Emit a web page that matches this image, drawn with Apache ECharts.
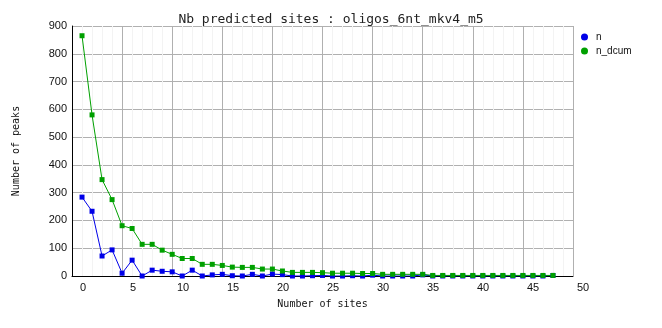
<!DOCTYPE html>
<html>
<head>
<meta charset="utf-8">
<script src="https://cdn.jsdelivr.net/npm/echarts@6/dist/echarts.min.js"></script>
<style>html,body{margin:0;padding:0;background:#fff}#c{width:662px;height:328px}</style>
</head>
<body>
<div id="c"></div>
<script>
const sites = [0,1,2,3,4,5,6,7,8,9,10,11,12,13,14,15,16,17,18,19,20,21,22,23,24,25,26,27,28,29,30,31,32,33,34,35,36,37,38,39,40,41,42,43,44,45,46,47];
const n = [284,233,72,94,10,57,0,21,17,15,0,21,0,4,6,1,0,6,0,7,5,0,0,1,2,0,0,1,0,3,0,0,0,0,4,0,0,0,0,0,0,0,0,0,0,0,0,2];
const n_dcum = [865,580,347,275,181,171,114,114,93,78,63,63,42,42,38,32,31,31,25,25,18,13,13,13,12,10,10,10,9,9,6,6,6,6,6,2,2,2,2,2,2,2,2,2,2,2,2,2];
const xTickLabels = [0,5,10,15,20,25,30,35,40,45,50];
const yTicks = [0,100,200,300,400,500,600,700,800,900];

const chart = echarts.init(document.getElementById('c'), null, {renderer:'canvas'});
const mono = 'DejaVu Sans Mono';
const sans = 'Liberation Sans';
chart.setOption({
  animation: false,
  backgroundColor: '#fff',
  title: {
    text: 'Nb predicted sites : oligos_6nt_mkv4_m5',
    left: 'center', top: 8,
    textStyle: {fontFamily: mono, fontSize: 13, fontWeight: 'normal', color: '#222'}
  },
  legend: {
    orient: 'vertical', left: 576, top: 26, itemGap: 2,
    itemWidth: 7, itemHeight: 7, icon: 'circle',
    textStyle: {fontFamily: sans, fontSize: 10, lineHeight: 12, color: '#111', padding: [0,0,0,3]},
    data: ['n','n_dcum']
  },
  grid: [
    {left: 72, right: 89, top: 26, bottom: 52, containLabel: false},
    {left: 83, right: 79, top: 26, bottom: 52, containLabel: false}
  ],
  xAxis: [
    {
      type: 'value', gridIndex: 0, min: -1, max: 49, interval: 5,
      name: 'Number of sites', nameLocation: 'middle', nameGap: 23,
      nameTextStyle: {fontFamily: mono, fontSize: 10, color: '#111'},
      axisLine: {show: true, onZero: false, lineStyle: {color: '#000', width: 1}},
      axisTick: {show: false},
      axisLabel: {show: false},
      splitLine: {show: true, lineStyle: {color: '#b0b0b0', width: 1}},
      minorTick: {show: false, splitNumber: 5},
      minorSplitLine: {show: true, lineStyle: {color: '#f3f3f3', width: 1}}
    },
    {
      type: 'value', gridIndex: 1, min: xTickLabels[0], max: xTickLabels[xTickLabels.length-1], interval: 5,
      axisLine: {show: false}, axisTick: {show: false}, splitLine: {show: false},
      axisLabel: {show: true, margin: 6, fontFamily: sans, fontSize: 11, color: '#111'}
    }
  ],
  yAxis: [
    {
      type: 'value', gridIndex: 0, min: yTicks[0], max: yTicks[yTicks.length-1], interval: 100,
      name: 'Number of peaks', nameLocation: 'middle', nameGap: 51,
      nameTextStyle: {fontFamily: mono, fontSize: 10, color: '#111'},
      axisLine: {show: true, onZero: false, lineStyle: {color: '#000', width: 1}},
      axisTick: {show: false},
      axisLabel: {margin: 5, fontFamily: sans, fontSize: 11, color: '#111'},
      splitLine: {show: true, lineStyle: {color: '#b0b0b0', width: 1}}
    },
    {
      type: 'value', gridIndex: 1, min: 0, max: 900, show: false
    }
  ],
  series: [
    {
      name: 'n', type: 'line', xAxisIndex: 0, yAxisIndex: 0,
      data: sites.map((s,i) => [s, n[i]]),
      symbol: 'rect', symbolSize: 5, showAllSymbol: true,
      itemStyle: {color: '#0000e8'},
      lineStyle: {color: '#0000e8', width: 1}
    },
    {
      name: 'n_dcum', type: 'line', xAxisIndex: 0, yAxisIndex: 0,
      data: sites.map((s,i) => [s, n_dcum[i]]),
      symbol: 'rect', symbolSize: 5, showAllSymbol: true,
      itemStyle: {color: '#00a000'},
      lineStyle: {color: '#00a000', width: 1}
    }
  ]
});
</script>
</body>
</html>
